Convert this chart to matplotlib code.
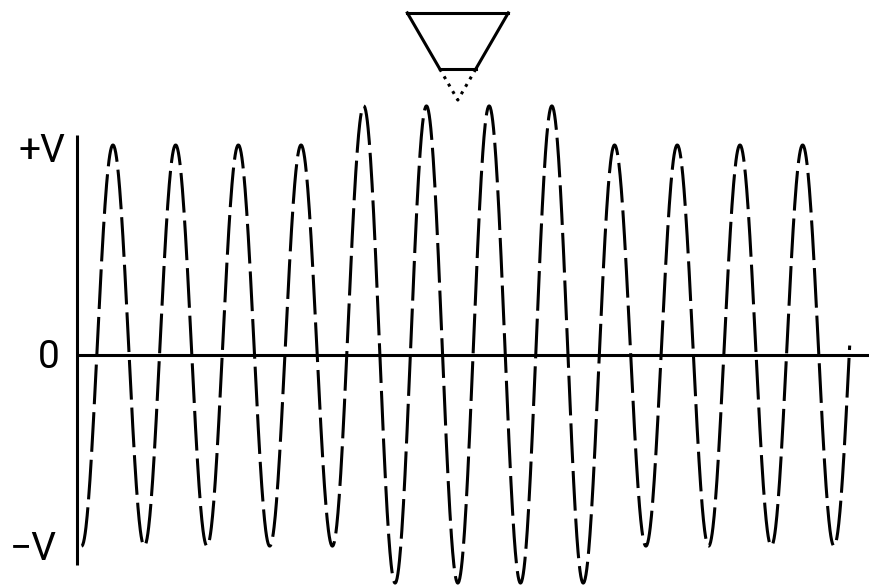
import numpy as np
import matplotlib
matplotlib.use("Agg")
import matplotlib.pyplot as plt
from matplotlib import font_manager

# ---- data (time in periods, amplitude in units of V) ----
extreme_times = [k * 0.5 for k in range(25)]          # trough, peak, trough, ...
peak_levels = [1.0, 1.0, 1.0, 1.0, 1.186, 1.186, 1.186, 1.186, 1.0, 1.0, 1.0, 1.0]
trough_levels = [-0.91, -0.91, -0.91, -0.91, -0.91, -1.086, -1.086, -1.086, -1.086,
                 -0.91, -0.91, -0.91, -0.91]
end_time = 12.25
marker_time = 6.0
y_labels = ["+V", "0", "\u2212V"]
y_label_values = [0.969, -0.01, -0.924]

# build extreme level sequence: trough, peak, trough, ...
levels = []
for i in range(len(trough_levels)):
    levels.append(trough_levels[i])
    if i < len(peak_levels):
        levels.append(peak_levels[i])

# half-cosine interpolation between consecutive extremes
t_all, y_all = [], []
for i in range(len(levels)):
    a = levels[i]
    b = levels[i + 1] if i + 1 < len(levels) else peak_levels[-1]
    t0 = extreme_times[i]
    t1 = t0 + 0.5
    stop = min(t1, end_time)
    tt = np.linspace(t0, stop, 80)
    ph = (tt - t0) / 0.5 * np.pi
    yy = (a + b) / 2 + (a - b) / 2 * np.cos(ph)
    t_all.append(tt)
    y_all.append(yy)
    if stop >= end_time:
        break
t_all = np.concatenate(t_all)
y_all = np.concatenate(y_all)

# ---- font ----
names = {f.name for f in font_manager.fontManager.ttflist}
fam = "DejaVu Sans"
for cand in ["Liberation Sans Narrow", "Roboto", "DejaVu Sans"]:
    if cand in names:
        fam = cand
        break

W, H = 869, 588
fig = plt.figure(figsize=(W / 100, H / 100), dpi=100)
ax = fig.add_axes([0, 0, 1, 1])
x0_px, per_px = 81.6, 62.7
y0_px, unit_px = 355.0, 210.0
ax.set_xlim(-x0_px / per_px, (W - x0_px) / per_px)
ax.set_ylim(-(H - y0_px) / unit_px, y0_px / unit_px)
ax.axis("off")

lw = 2.2
# axes
ax_x = -4.6 / per_px
ax.plot([ax_x, ax_x], [-1.0, 1.05], color="black", lw=lw, solid_capstyle="butt")
ax.plot([ax_x, (W - x0_px) / per_px], [0, 0], color="black", lw=lw, solid_capstyle="butt")

# waveform
line, = ax.plot(t_all, y_all, color="black", lw=lw)
line.set_dashes((13, 2.6))

# labels
for lab, v, xo in zip(y_labels, y_label_values, [-0.64, -0.52, -0.767]):
    ax.text(xo, v, lab, fontsize=28, family=fam, ha="center", va="center", color="black")

# triangle marker
half_top = 0.805
tri_top = 1.629
tri_apex = 1.214
tri_mid = 1.362
frac = (tri_top - tri_mid) / (tri_top - tri_apex)
hw_mid = half_top * (1 - frac)
ax.plot([marker_time - half_top, marker_time + half_top], [tri_top, tri_top], color="black", lw=lw)
ax.plot([marker_time - half_top, marker_time - hw_mid], [tri_top, tri_mid], color="black", lw=lw)
ax.plot([marker_time + half_top, marker_time + hw_mid], [tri_top, tri_mid], color="black", lw=lw)
ax.plot([marker_time - hw_mid, marker_time + hw_mid], [tri_mid, tri_mid], color="black", lw=lw)
ax.plot([marker_time - hw_mid, marker_time, marker_time + hw_mid], [tri_mid, tri_apex, tri_mid],
        color="black", lw=lw, linestyle=(0, (1, 1.8)))

fig.savefig("out.png", dpi=100, facecolor="white")
